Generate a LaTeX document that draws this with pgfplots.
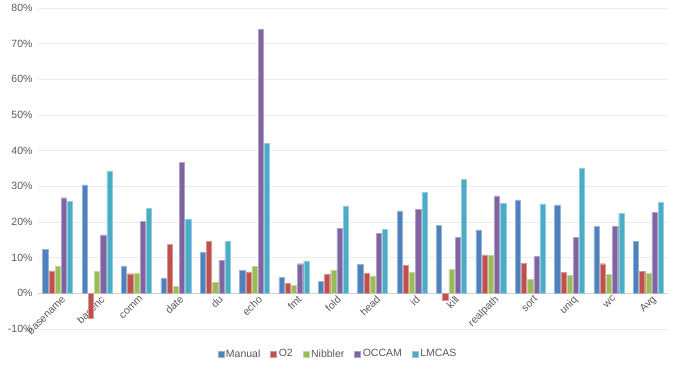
\documentclass[border=0pt]{standalone}
\usepackage{pgfplots}
\pgfplotsset{compat=1.18}
\usepackage{fontspec}
\setmainfont{Liberation Sans}

\definecolor{cManual}{HTML}{4F81BD}
\definecolor{cOtwo}{HTML}{C0504D}
\definecolor{cNibbler}{HTML}{9BBB59}
\definecolor{cOccam}{HTML}{8064A2}
\definecolor{cLmcas}{HTML}{4BACC6}
\definecolor{txt}{HTML}{595959}
\definecolor{gridc}{HTML}{EBEBEB}

\begin{document}
\begin{tikzpicture}
\begin{axis}[
  scale only axis,
  width=630pt, height=321pt,
  ybar=1pt, bar width=5.2pt,
  xmin=-0.5, xmax=15.5,
  ymin=-10, ymax=80,
  xtick={0,...,15},
  xticklabels={basename,basenc,comm,date,du,echo,fmt,fold,head,id,kill,realpath,sort,uniq,wc,Avg},
  xticklabel style={yshift=35.67pt, xshift=3pt, rotate=45, anchor=north east, inner sep=1pt},
  ytick={-10,0,...,80},
  yticklabels={-10\%,0\%,10\%,20\%,30\%,40\%,50\%,60\%,70\%,80\%},
  ymajorgrids=true,
  grid style={gridc, line width=0.8pt},
  axis line style={draw=none},
  major tick length=0pt,
  tick label style={font=\fontsize{10.5}{12}\selectfont, text=txt},
  yticklabel style={xshift=-2pt},
  legend style={at={(0.5,0)}, anchor=center, yshift=-25pt, xshift=-15pt, draw=none,
    legend columns=-1, font=\fontsize{10.5}{12}\selectfont, text=txt,
    /tikz/every even column/.append style={column sep=8pt}},
  legend image code/.code={\fill[#1] (0pt,-3pt) rectangle (6pt,3pt);},
  extra y ticks={0},
  extra y tick labels={},
  extra y tick style={grid style={gray!35, line width=0.8pt}},
]
\addplot[fill=cManual, draw=cManual!60!white, line width=0.4pt] coordinates {
 (0,12.3)(1,30.4)(2,7.7)(3,4.3)(4,11.4)(5,6.5)(6,4.4)(7,3.3)
 (8,8.2)(9,23.1)(10,19.0)(11,17.8)(12,26.2)(13,24.8)(14,18.7)(15,14.5)};
\addplot[fill=cOtwo, draw=cOtwo!60!white, line width=0.4pt] coordinates {
 (0,6.3)(1,-6.9)(2,5.5)(3,13.7)(4,14.5)(5,6.0)(6,2.7)(7,5.4)
 (8,5.6)(9,7.8)(10,-1.9)(11,10.8)(12,8.4)(13,5.8)(14,8.3)(15,6.2)};
\addplot[fill=cNibbler, draw=cNibbler!60!white, line width=0.4pt] coordinates {
 (0,7.7)(1,6.1)(2,5.7)(3,2.0)(4,3.2)(5,7.6)(6,2.2)(7,6.4)
 (8,4.9)(9,5.8)(10,6.8)(11,10.6)(12,3.9)(13,5.0)(14,5.4)(15,5.6)};
\addplot[fill=cOccam, draw=cOccam!60!white, line width=0.4pt] coordinates {
 (0,26.8)(1,16.4)(2,20.1)(3,36.7)(4,9.2)(5,74.0)(6,8.3)(7,18.3)
 (8,16.8)(9,23.6)(10,15.7)(11,27.3)(12,10.3)(13,15.7)(14,18.9)(15,22.7)};
\addplot[fill=cLmcas, draw=cLmcas!60!white, line width=0.4pt] coordinates {
 (0,25.8)(1,34.3)(2,23.8)(3,20.9)(4,14.6)(5,42.0)(6,9.1)(7,24.5)
 (8,17.9)(9,28.4)(10,32.0)(11,25.2)(12,25.1)(13,35.2)(14,22.5)(15,25.5)};
\legend{Manual,O2,Nibbler,OCCAM,LMCAS}
\end{axis}
\pgfresetboundingbox
\path[use as bounding box] ([xshift=-38pt,yshift=-37pt]current axis.south west) rectangle ([xshift=5pt,yshift=8pt]current axis.north east);
\end{tikzpicture}
\end{document}
